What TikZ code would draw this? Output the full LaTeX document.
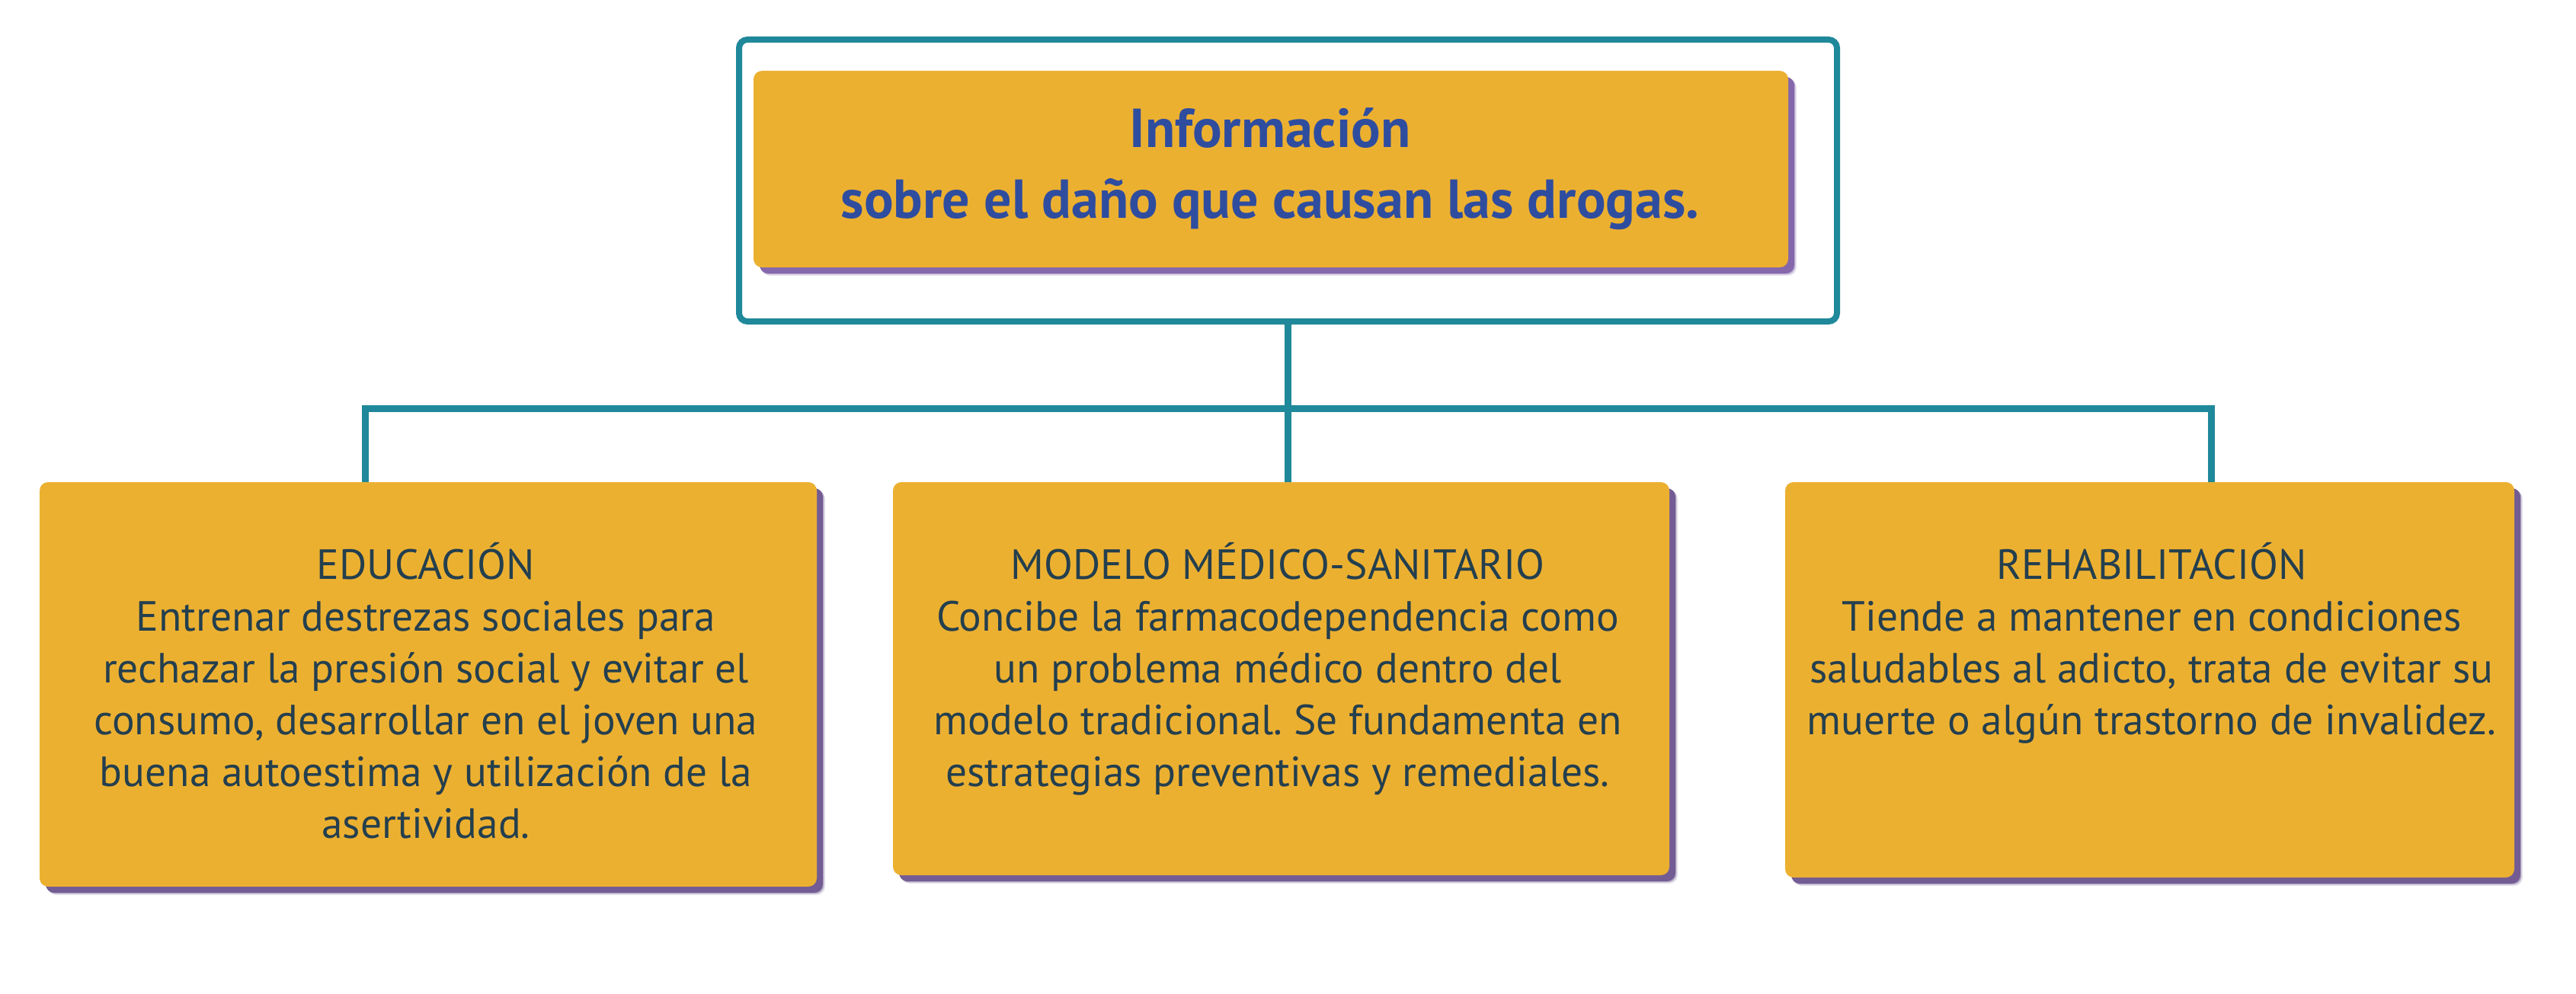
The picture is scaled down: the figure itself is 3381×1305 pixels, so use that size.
\documentclass[tikz,border=0pt]{standalone}
\usepackage{fontspec}
\setmainfont{PT Sans}
\usetikzlibrary{shadows}
\definecolor{boxyellow}{HTML}{ECB031}
\definecolor{linkteal}{HTML}{1F889A}
\definecolor{shadowtop}{HTML}{8567AC}
\definecolor{shadowlow}{HTML}{735C93}
\definecolor{titleblue}{HTML}{2F4D9F}
\definecolor{bodytext}{HTML}{243F4E}
\begin{document}
\frenchspacing
\begin{tikzpicture}[x=0.5pt,y=-0.5pt,
  softshadow/.style={
    drop shadow={shadow xshift=5.5pt, shadow yshift=-5.5pt, fill=#1, opacity=0.18},
    drop shadow={shadow xshift=4.7pt, shadow yshift=-4.7pt, fill=#1, opacity=0.4},
    drop shadow={shadow xshift=4pt, shadow yshift=-4pt, fill=#1, opacity=1}},
  yellowbox/.style={fill=boxyellow, rounded corners=5.5pt, draw=none, inner sep=0pt},
  framebox/.style={draw=linkteal, line width=4pt, rounded corners=5.5pt, fill=white, inner sep=0pt},
  link/.style={draw=linkteal, line width=4.5pt},
  bodytxt/.style={text=bodytext, font=\fontsize{27.7}{34}\selectfont, align=center, inner sep=0pt, anchor=north},
  titletxt/.style={text=titleblue, font=\bfseries\fontsize{36}{46.5}\selectfont, align=center, inner sep=0pt}]
\useasboundingbox (0,0) rectangle (3381,1305);
\fill[white] (0,0) rectangle (3381,1305);
% top
\node[framebox, minimum width=720.5pt, minimum height=185pt] (frame) at (1690.5,237) {};
\node[yellowbox, softshadow=shadowtop, minimum width=679pt, minimum height=129pt] (top) at (1668,222) {};
\node[titletxt] (title) at (1667,222) {Información\\sobre el daño que causan las drogas.};
% boxes
\node[yellowbox, softshadow=shadowlow, minimum width=510pt, minimum height=265.5pt] (box1) at (562,898.5) {};
\node[yellowbox, softshadow=shadowlow, minimum width=509.5pt, minimum height=258pt] (box2) at (1681.5,891) {};
\node[yellowbox, softshadow=shadowlow, minimum width=478.5pt, minimum height=259.5pt] (box3) at (2821.5,892.5) {};
\node[bodytxt] (t1) at (559,712) {EDUCACIÓN\\Entrenar destrezas sociales para\\rechazar la presión social y evitar el\\consumo, desarrollar en el joven una\\buena autoestima y utilización de la\\asertividad.};
\node[bodytxt] (t2) at (1677,712) {MODELO MÉDICO-SANITARIO\\Concibe la farmacodependencia como\\un problema médico dentro del\\modelo tradicional. Se fundamenta en\\estrategias preventivas y remediales.};
\node[bodytxt] (t3) at (2824,712) {REHABILITACIÓN\\Tiende a mantener en condiciones\\saludables al adicto, trata de evitar su\\muerte o algún trastorno de invalidez.};
% connectors
\coordinate (hub) at (1690.5,536);
\coordinate (d1) at (479,536);
\coordinate (d3) at (2902.5,536);
\draw[link] (d1 |- box1.north) -- (d1) -- (d3) -- (d3 |- box3.north);
\draw[link] (frame.south) -- (hub |- box2.north);
\end{tikzpicture}
\end{document}
